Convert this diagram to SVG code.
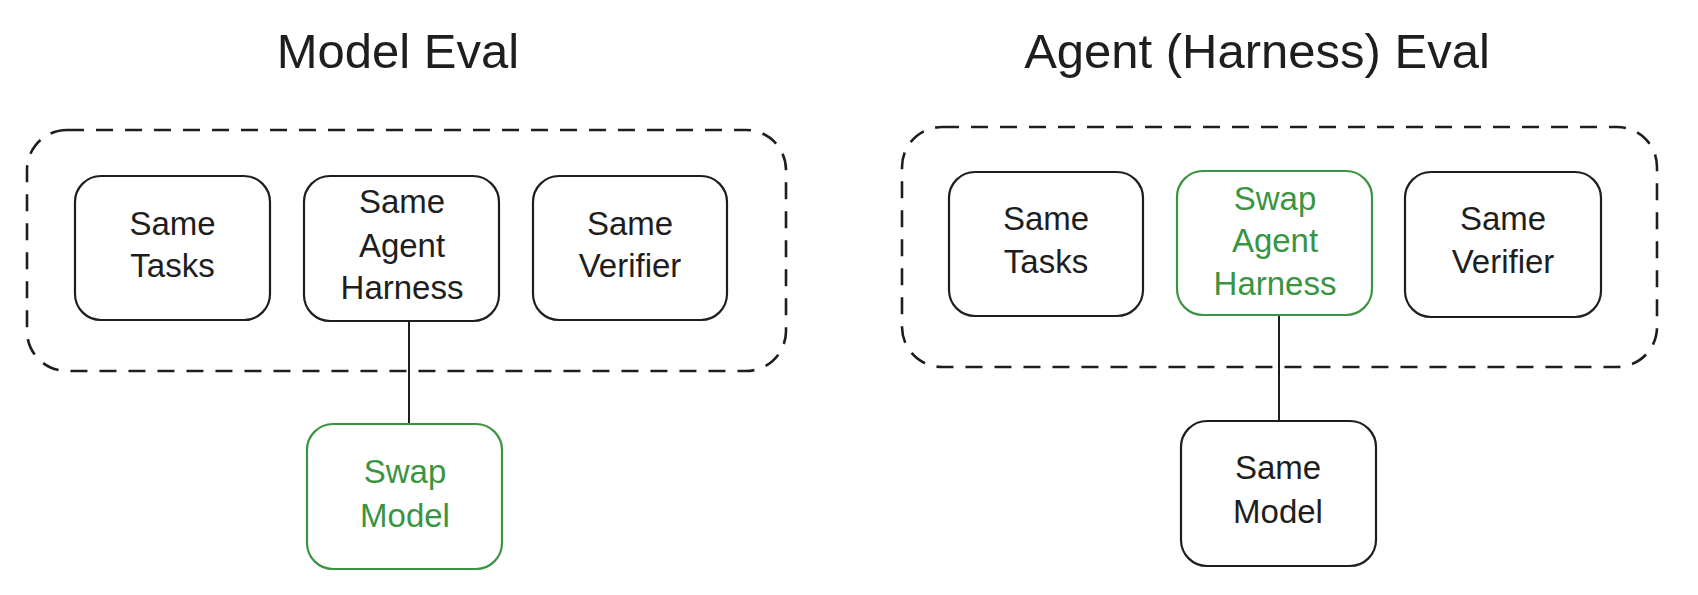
<svg xmlns="http://www.w3.org/2000/svg" width="1698" height="595" viewBox="0 0 1698 595">
<style>
  .bg{fill:#ffffff}
  .title{font-family:"Liberation Sans",Arial,sans-serif;font-size:49px;fill:#1e1e1e;text-anchor:middle}
  .lbl{font-family:"Liberation Sans",Arial,sans-serif;font-size:33px;fill:#1e1e1e;text-anchor:middle}
  .lbl.g{fill:#3a9442}
  .node{fill:#ffffff;stroke:#1e1e1e;stroke-width:2.2}
  .node.g{stroke:#3a9442}
  .group{fill:none;stroke:#1e1e1e;stroke-width:2.6;stroke-dasharray:17 12}
  .conn{fill:none;stroke:#1e1e1e;stroke-width:2}
</style>
<rect class="bg" x="0" y="0" width="1698" height="595"/>

<g id="title-model-eval"><text class="title" x="398" y="68">Model Eval</text></g>
<g id="title-agent-eval"><text class="title" x="1257" y="68">Agent (Harness) Eval</text></g>

<g id="group-model-eval"><rect class="group" x="27" y="130" width="759" height="241" rx="40" ry="40"/></g>
<g id="group-agent-eval"><rect class="group" x="902" y="127" width="755" height="240" rx="40" ry="40"/></g>

<g id="connectors">
  <line class="conn" x1="409" y1="321" x2="409" y2="424"/>
  <line class="conn" x1="1279" y1="315" x2="1279" y2="421"/>
</g>

<g id="l-tasks">
  <rect class="node" x="75" y="176" width="195" height="144" rx="26"/>
  <text class="lbl" x="172.5" y="235">Same</text>
  <text class="lbl" x="172.5" y="277">Tasks</text>
</g>
<g id="l-harness">
  <rect class="node" x="304" y="176" width="195" height="145" rx="26"/>
  <text class="lbl" x="402" y="213">Same</text>
  <text class="lbl" x="402" y="257">Agent</text>
  <text class="lbl" x="402" y="299">Harness</text>
</g>
<g id="l-verifier">
  <rect class="node" x="533" y="176" width="194" height="144" rx="26"/>
  <text class="lbl" x="630" y="235">Same</text>
  <text class="lbl" x="630" y="277">Verifier</text>
</g>
<g id="l-model">
  <rect class="node g" x="307" y="424" width="195" height="145" rx="26"/>
  <text class="lbl g" x="405" y="483">Swap</text>
  <text class="lbl g" x="405" y="527">Model</text>
</g>

<g id="r-tasks">
  <rect class="node" x="949" y="172" width="194" height="144" rx="26"/>
  <text class="lbl" x="1046" y="230">Same</text>
  <text class="lbl" x="1046" y="273">Tasks</text>
</g>
<g id="r-harness">
  <rect class="node g" x="1177" y="171" width="195" height="144" rx="26"/>
  <text class="lbl g" x="1275" y="210">Swap</text>
  <text class="lbl g" x="1275" y="252">Agent</text>
  <text class="lbl g" x="1275" y="295">Harness</text>
</g>
<g id="r-verifier">
  <rect class="node" x="1405" y="172" width="196" height="145" rx="26"/>
  <text class="lbl" x="1503" y="230">Same</text>
  <text class="lbl" x="1503" y="273">Verifier</text>
</g>
<g id="r-model">
  <rect class="node" x="1181" y="421" width="195" height="145" rx="26"/>
  <text class="lbl" x="1278" y="479">Same</text>
  <text class="lbl" x="1278" y="523">Model</text>
</g>
</svg>
